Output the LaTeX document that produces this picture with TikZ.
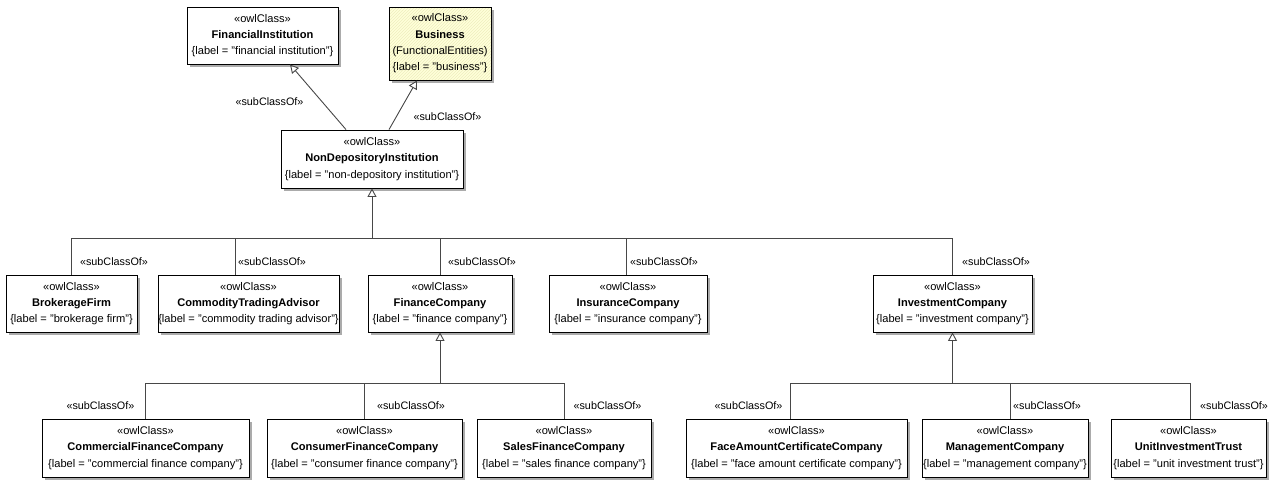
\documentclass[tikz,border=0pt]{standalone}
\usepackage{fontspec}
\setmainfont{Liberation Sans}
\usetikzlibrary{arrows.meta,shadows,patterns}
\begin{document}
\begin{tikzpicture}[x=1pt,y=-1pt,
  cls/.style={draw=black, fill=white, line width=0.9pt, align=center, inner sep=0pt,
    font=\fontsize{11.1}{16.3}\selectfont,
    drop shadow={shadow xshift=2.5pt, shadow yshift=-2.5pt, fill=black!55, opacity=0.6}},
  conn/.style={draw=black!72, line width=0.9pt},
  gen/.style={conn, -{Triangle[open, length=8.5pt, width=9pt]}},
  sub/.style={font=\fontsize{10.8}{13}\selectfont, inner sep=0pt}
]
\useasboundingbox (0,0) rectangle (1276,479);

% top row
\node[cls, minimum width=151, minimum height=57] (fi) at (262.5,35.5)
  {«owlClass»\\\textbf{FinancialInstitution}\\\{label = "financial institution"\}};
\node[cls, minimum width=102, minimum height=73,
  preaction={fill={rgb,255:red,255;green,255;blue,218}},
  pattern=north east lines, pattern color={rgb,255:red,238;green,238;blue,190}] (bus) at (440,43.5)
  {«owlClass»\\\textbf{Business}\\(FunctionalEntities)\\\{label = "business"\}};
\node[cls, minimum width=182, minimum height=58] (ndi) at (372,159)
  {«owlClass»\\\textbf{NonDepositoryInstitution}\\\{label = "non-depository institution"\}};

\draw[gen] ([xshift=-26pt]ndi.north) -- ([xshift=27.5pt]fi.south);
\draw[gen] ([xshift=17pt]ndi.north) -- ([xshift=-23pt]bus.south);
\node[sub] (s0a) at (269.5,101.7) {«subClassOf»};
\node[sub] (s0b) at (447.5,116.7) {«subClassOf»};

% middle row
\node[cls, minimum width=131, minimum height=57] (bf) at (71.5,303.5)
  {«owlClass»\\\textbf{BrokerageFirm}\\\{label = "brokerage firm"\}};
\node[cls, minimum width=181, minimum height=57] (cta) at (248.5,303.5)
  {«owlClass»\\\textbf{CommodityTradingAdvisor}\\\{label = "commodity trading advisor"\}};
\node[cls, minimum width=144, minimum height=57] (fc) at (440,303.5)
  {«owlClass»\\\textbf{FinanceCompany}\\\{label = "finance company"\}};
\node[cls, minimum width=158, minimum height=57] (ic) at (628,303.5)
  {«owlClass»\\\textbf{InsuranceCompany}\\\{label = "insurance company"\}};
\node[cls, minimum width=159, minimum height=57] (invc) at (952.5,303.5)
  {«owlClass»\\\textbf{InvestmentCompany}\\\{label = "investment company"\}};

\coordinate (j1) at (372,238);
\draw[gen] (j1) -- (ndi.south);
\draw[conn] (bf.north) |- (j1);
\draw[conn] ([xshift=-13.5pt]cta.north) |- (j1);
\draw[conn] (fc.north) |- (j1);
\draw[conn] ([xshift=-2pt]ic.north) |- (j1);
\draw[conn] (invc.north) |- (j1);
\node[sub] (s1) at (114,262) {«subClassOf»};
\node[sub] (s2) at (272,262) {«subClassOf»};
\node[sub] (s3) at (482,262) {«subClassOf»};
\node[sub] (s4) at (664,262) {«subClassOf»};
\node[sub] (s5) at (996,262) {«subClassOf»};

% bottom row
\node[cls, minimum width=207, minimum height=58] (cfc) at (145.5,448)
  {«owlClass»\\\textbf{CommercialFinanceCompany}\\\{label = "commercial finance company"\}};
\node[cls, minimum width=195, minimum height=58] (cnfc) at (364.5,448)
  {«owlClass»\\\textbf{ConsumerFinanceCompany}\\\{label = "consumer finance company"\}};
\node[cls, minimum width=174, minimum height=58] (sfc) at (564,448)
  {«owlClass»\\\textbf{SalesFinanceCompany}\\\{label = "sales finance company"\}};
\node[cls, minimum width=221, minimum height=58] (facc) at (796.5,448)
  {«owlClass»\\\textbf{FaceAmountCertificateCompany}\\\{label = "face amount certificate company"\}};
\node[cls, minimum width=166, minimum height=58] (mc) at (1005,448)
  {«owlClass»\\\textbf{ManagementCompany}\\\{label = "management company"\}};
\node[cls, minimum width=155, minimum height=58] (uit) at (1188.5,448)
  {«owlClass»\\\textbf{UnitInvestmentTrust}\\\{label = "unit investment trust"\}};

\coordinate (j2) at (440,383);
\draw[gen] (j2) -- (fc.south);
\draw[conn] (cfc.north) |- (j2);
\draw[conn] (cnfc.north) |- (j2);
\draw[conn] (sfc.north) |- (j2);

\coordinate (j3) at (952.5,383);
\draw[gen] (j3) -- (invc.south);
\draw[conn] ([xshift=-6.5pt]facc.north) |- (j3);
\draw[conn] ([xshift=5pt]mc.north) |- (j3);
\draw[conn] ([xshift=1.5pt]uit.north) |- (j3);

\node[sub] (s6) at (100.5,406) {«subClassOf»};
\node[sub] (s7) at (411,406) {«subClassOf»};
\node[sub] (s8) at (607.5,406) {«subClassOf»};
\node[sub] (s9) at (748.5,406) {«subClassOf»};
\node[sub] (s10) at (1047,406) {«subClassOf»};
\node[sub] (s11) at (1234,406) {«subClassOf»};
\end{tikzpicture}
\end{document}
